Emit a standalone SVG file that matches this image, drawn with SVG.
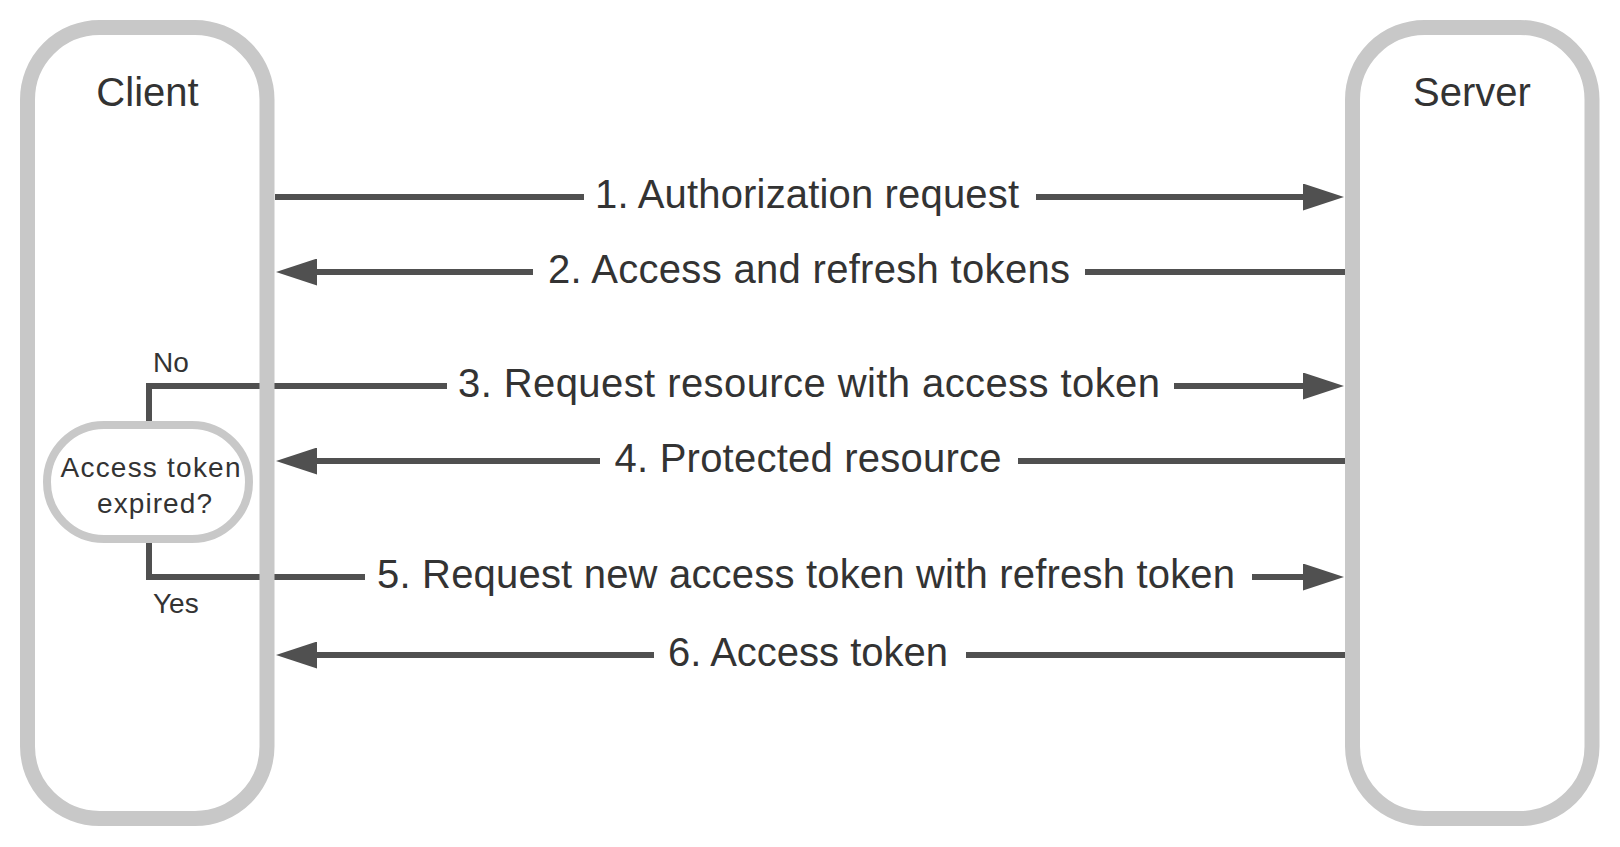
<svg xmlns="http://www.w3.org/2000/svg" width="1620" height="847" viewBox="0 0 1620 847">
  <style>
    .lane { fill: none; stroke: #c8c8c8; stroke-width: 15; }
    .dec { fill: #ffffff; stroke: #c8c8c8; stroke-width: 8; }
    .conn { fill: none; stroke: #505050; stroke-width: 6; }
    .title { font-family: "Liberation Sans", Arial, sans-serif; font-size: 40px; fill: #333333; text-anchor: middle; }
    .lbl { font-family: "Liberation Sans", Arial, sans-serif; font-size: 40px; fill: #333333; text-anchor: middle; }
    .small { font-family: "Liberation Sans", Arial, sans-serif; font-size: 28px; fill: #333333; }
    .mid { text-anchor: middle; }
  </style>
  <defs>
    <marker id="arrow" markerUnits="userSpaceOnUse" markerWidth="41" markerHeight="27" refX="2" refY="13.5" orient="auto">
      <path d="M0,0 L41,13.5 L0,27 Z" fill="#505050"/>
    </marker>
  </defs>
  <rect width="1620" height="847" fill="#ffffff"/>

  <g id="connectors">
    <!-- 1 -->
    <path class="conn" d="M275,197 H584"/>
    <path class="conn" d="M1036,197 H1305" marker-end="url(#arrow)"/>
    <!-- 2 -->
    <path class="conn" d="M1345,272 H1085"/>
    <path class="conn" d="M533,272 H315" marker-end="url(#arrow)"/>
    <!-- 3 (No) -->
    <path class="conn" d="M149,425 V386 H447"/>
    <path class="conn" d="M1174,386 H1305" marker-end="url(#arrow)"/>
    <!-- 4 -->
    <path class="conn" d="M1345,461 H1018"/>
    <path class="conn" d="M600,461 H315" marker-end="url(#arrow)"/>
    <!-- 5 (Yes) -->
    <path class="conn" d="M149,539 V577 H365"/>
    <path class="conn" d="M1252,577 H1305" marker-end="url(#arrow)"/>
    <!-- 6 -->
    <path class="conn" d="M1345,655 H966"/>
    <path class="conn" d="M654,655 H315" marker-end="url(#arrow)"/>

    <text class="lbl" x="807" y="208" textLength="424">1. Authorization request</text>
    <text class="lbl" x="809" y="283" textLength="522">2. Access and refresh tokens</text>
    <text class="lbl" x="809" y="397" textLength="702">3. Request resource with access token</text>
    <text class="lbl" x="808" y="472" textLength="387">4. Protected resource</text>
    <text class="lbl" x="806" y="588" textLength="858">5. Request new access token with refresh token</text>
    <text class="lbl" x="808" y="666">6. Access token</text>
    <text class="small" x="153" y="372">No</text>
    <text class="small" x="153" y="613">Yes</text>
  </g>

  <g id="client">
    <rect class="lane" x="27.5" y="27.5" width="239.5" height="791" rx="72" ry="72"/>
    <text class="title" x="147.5" y="106">Client</text>
  </g>

  <g id="server">
    <rect class="lane" x="1352.5" y="27.5" width="239.5" height="791" rx="72" ry="72"/>
    <text class="title" x="1472" y="106">Server</text>
  </g>

  <g id="decision">
    <rect class="dec" x="47" y="425" width="202" height="114" rx="57" ry="57"/>
    <text class="small mid" x="150.5" y="477" textLength="180" lengthAdjust="spacing">Access token</text>
    <text class="small mid" x="154.5" y="513" textLength="115" lengthAdjust="spacing">expired?</text>
  </g>
</svg>
